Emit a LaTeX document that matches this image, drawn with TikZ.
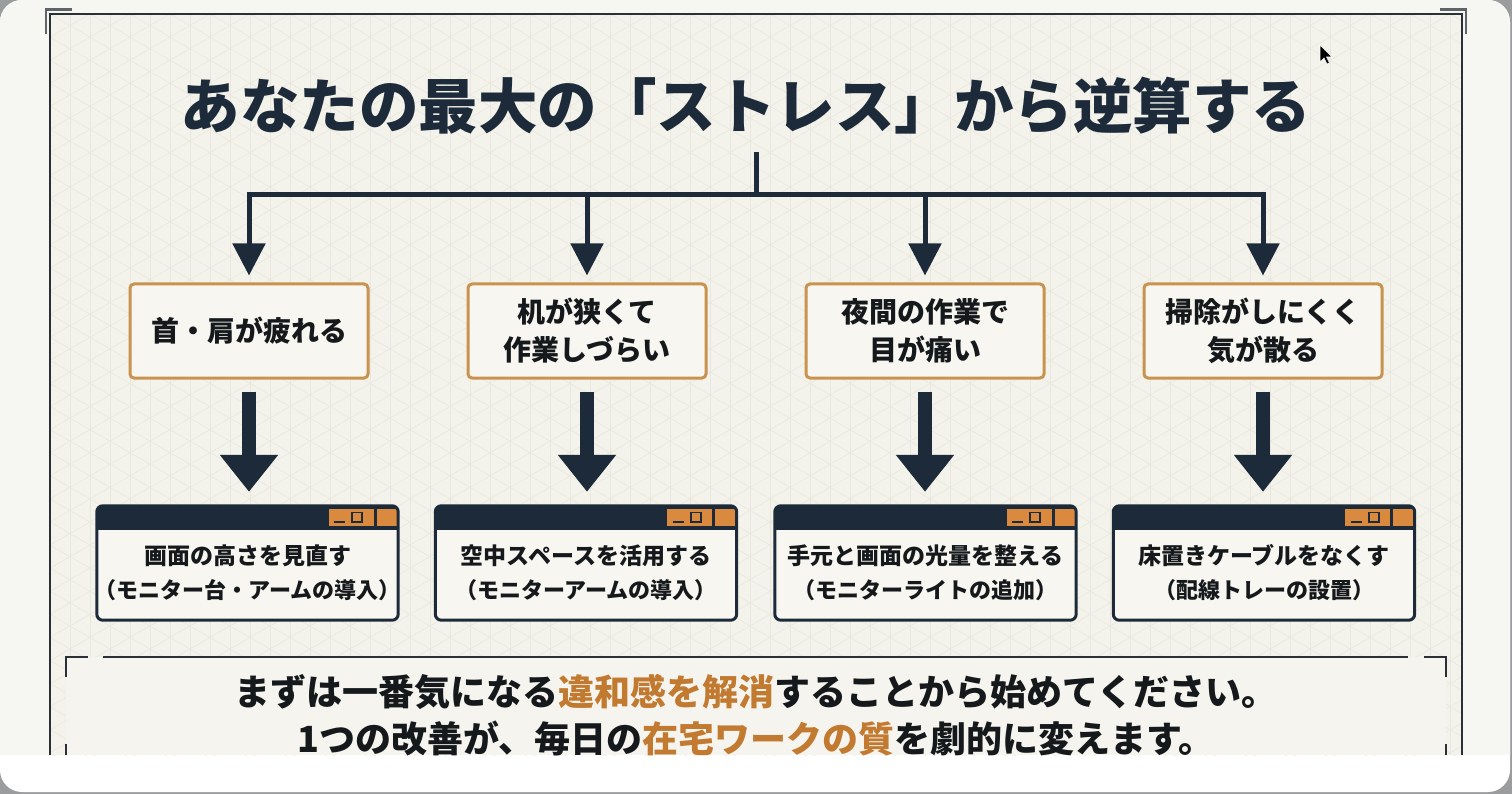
\documentclass[tikz,border=0pt]{standalone}
\usepackage{fontspec}
\setmainfont{Noto Sans CJK JP}
\usetikzlibrary{arrows.meta,calc}
\definecolor{navy}{HTML}{1D2A39}
\definecolor{panel}{HTML}{F4F3EB}
\definecolor{msgpanel}{HTML}{F5F4EE}
\definecolor{cardc}{HTML}{F6F6F2}
\definecolor{outergray}{HTML}{9A9C9E}
\definecolor{gridc}{HTML}{E9E7DE}
\definecolor{framec}{HTML}{2B3036}
\definecolor{bracketc}{HTML}{5E6468}
\definecolor{tan}{HTML}{C8934E}
\definecolor{btn}{HTML}{D98A3E}
\definecolor{accent}{HTML}{C27A30}
\definecolor{ink}{HTML}{16191C}
\definecolor{boxfill}{HTML}{F7F6F0}
\tikzset{
  pbox/.style={draw=tan, line width=3pt, rounded corners=4pt, fill=boxfill,
    minimum width=238pt, minimum height=94pt, inner sep=0pt, align=center,
    text=ink, font=\bfseries\fontsize{28}{38}\selectfont},
  wbox/.style={fill=boxfill, minimum width=301pt, minimum height=114pt, inner sep=0pt},
  wtext/.style={align=center, text=ink, font=\bfseries\fontsize{23}{34}\selectfont},
  thin/.style={draw=navy, line width=5pt},
  thinarrow/.style={thin, -{Triangle[width=32pt,length=32pt]}, shorten >=7pt},
  bigarrow/.style={draw=navy, line width=14pt, -{Triangle[width=56pt,length=37pt]}, shorten <=12pt, shorten >=14pt},
  framel/.style={draw=framec, line width=2.5pt},
  brk/.style={draw=bracketc, line width=2.5pt},
  msg/.style={font=\bfseries\fontsize{36}{42}\selectfont, text=ink},
}
\newcommand{\winbox}[4]{% name, center x, line1, line2
  \node[wbox] (#1) at (#2,563) {};
  \begin{scope}
    \clip[rounded corners=6pt] (#1.north west) rectangle (#1.south east);
    \fill[navy] (#1.north west) rectangle ($(#1.north east)+(0,24)$);
    \fill[btn, draw=navy, line width=1.2pt] ($(#1.north east)+(-70,3)$) rectangle ($(#1.north east)+(-24,21)$);
    \fill[btn, draw=navy, line width=1.2pt] ($(#1.north east)+(-22,3)$) rectangle ($(#1.north east)+(2,21)$);
    \draw[navy, line width=2.2pt] ($(#1.north east)+(-64,16)$) -- ($(#1.north east)+(-53,16)$);
    \draw[navy, line width=1.6pt] ($(#1.north east)+(-46,6.5)$) rectangle ($(#1.north east)+(-36,16)$);
  \end{scope}
  \draw[navy, line width=3pt, rounded corners=6pt] (#1.north west) rectangle (#1.south east);
  \node[wtext] (#1t) at ($(#1.center)+(0,10)$) {#3\\{\fontsize{22}{34}\selectfont #4}};
}
\begin{document}
\begin{tikzpicture}[x=1pt,y=-1pt]
\useasboundingbox (0,0) rectangle (1512,794);
\fill[outergray] (0,0) rectangle (1512,794);
\begin{scope}
  \clip[rounded corners=22pt] (0,0) rectangle (1510,792);
  \fill[white] (0,0) rectangle (1512,794);
  \fill[cardc] (0,0) rectangle (1512,755);
\end{scope}
% panel with faint isometric grid
\fill[panel] (50,14) rectangle (1462,755);
\begin{scope}
  \clip (50,14) rectangle (1462,755);
  \foreach \i in {0,...,71} \draw[gridc, line width=0.6pt] ({50+20*\i},14) -- ++(0,741);
  \foreach \i in {-36,...,68} {
    \draw[gridc, line width=0.6pt] (50,{14+23.09*\i}) -- ++(1412,815);
    \draw[gridc, line width=0.6pt] (50,{14+23.09*\i}) -- ++(1412,-815);
  }
\end{scope}
% plain area of the message panel
\fill[msgpanel] (66,657) rectangle (1446,755);
% outer frame
\draw[framel] (50,755) -- (50,14) -- (1462,14) -- (1462,755);
\draw[brk] (46,34) -- (46,9.5) -- (72,9.5);
\draw[brk] (1440,9.5) -- (1466,9.5) -- (1466,34);
% cursor
\fill[black, draw=white, line width=0.6pt] (1320,45) -- (1320,62) -- (1324,58) -- (1327,64) -- (1329.5,63) -- (1326.5,57) -- (1332,57) -- cycle;
% title
\node[font=\bfseries\fontsize{59.5}{64}\selectfont, text=navy] (title) at (746,106) {あなたの最大の「ストレス」から逆算する};
% tree
\coordinate (stem) at (756,152);
\coordinate (hub) at (756,195);
\coordinate (b1) at (249,195);
\coordinate (b2) at (587,195);
\coordinate (b3) at (925,195);
\coordinate (b4) at (1263,195);
\draw[thin] (stem) -- (hub);
\draw[thin, line cap=rect] (b1) -- (b4);
% problem boxes
\node[pbox] (p1) at (249,331) {首・肩が疲れる};
\node[pbox] (p2) at (587,331) {机が狭くて\\作業しづらい};
\node[pbox] (p3) at (925,331) {夜間の作業で\\目が痛い};
\node[pbox] (p4) at (1263,331) {掃除がしにくく\\気が散る};
\foreach \k in {1,...,4} \draw[thinarrow] (b\k) -- (p\k.north);
% solution windows
\winbox{w1}{247.5}{画面の高さを見直す}{（モニター台・アームの導入）}
\winbox{w2}{586}{空中スペースを活用する}{（モニターアームの導入）}
\winbox{w3}{925.5}{手元と画面の光量を整える}{（モニターライトの追加）}
\winbox{w4}{1264}{床置きケーブルをなくす}{（配線トレーの設置）}
\foreach \k in {1,...,4} \draw[bigarrow] (p\k.south) -- (p\k.south |- w\k.north);
% bottom bracket frame
\draw[framel] (103,657) -- (1408,657);
\draw[framel] (66,677) -- (66,657) -- (88,657);
\draw[framel] (1424,657) -- (1446,657) -- (1446,677);
\draw[framel] (66,744) -- (66,755);
\draw[framel] (1446,744) -- (1446,755);
% message
\node[msg] (m1) at (756,692) {まずは一番気になる\textcolor{accent}{違和感を解消}することから始めてください。};
\node[msg] (m2) at (756,739) {1つの改善が、毎日の\textcolor{accent}{在宅ワークの質}を劇的に変えます。};
\end{tikzpicture}
\end{document}
